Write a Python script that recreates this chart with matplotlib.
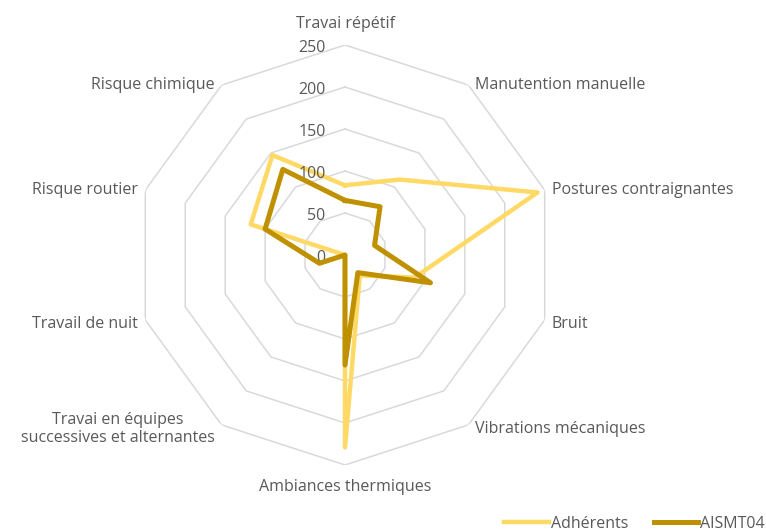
import numpy as np
import matplotlib
matplotlib.use("Agg")
import matplotlib.pyplot as plt
from matplotlib.lines import Line2D

categories = ["Travai répétif", "Manutention manuelle", "Postures contraignantes", "Bruit",
              "Vibrations mécaniques", "Ambiances thermiques",
              "Travai en équipes\nsuccessives et alternantes", "Travail de nuit",
              "Risque routier", "Risque chimique"]
adherents = [83, 111, 241, 87, 30, 229, 0, 0, 118, 147]
aismt04 = [65, 71, 37, 107, 26, 131, 0, 32, 100, 126]
ticks = [0, 50, 100, 150, 200, 250]

TXT = "#595959"
FONT = "Open Sans"
FS = 11.5

fig = plt.figure(figsize=(7.66, 5.30), dpi=100)
ax = fig.add_axes([135/766, 65/530, 420/766, 420/530], projection="polar")
ax.set_theta_offset(np.pi / 2)
ax.set_theta_direction(-1)
ax.set_ylim(0, 250)
ax.grid(False)
ax.spines["polar"].set_visible(False)
ax.set_xticks([])
ax.set_yticks([])
ax.patch.set_alpha(0)

n = len(categories)
theta = np.linspace(0, 2 * np.pi, n, endpoint=False)
tc = np.append(theta, theta[0])

for r in ticks[1:]:
    ax.plot(tc, [r] * (n + 1), color="#d9d9d9", lw=1.1, zorder=1)

ax.plot(tc, adherents + adherents[:1], color="#FFD966", lw=3.2, zorder=3,
        solid_joinstyle="round")
ax.plot(tc, aismt04 + aismt04[:1], color="#BF9000", lw=3.6, zorder=4,
        solid_joinstyle="round")

for t in ticks:
    ax.annotate(str(t), xy=(0, t), xytext=(-14, -2), textcoords="offset points",
                ha="right", va="center", fontsize=FS, color=TXT, family=FONT)

for th, lab in zip(theta, categories):
    s, c = np.sin(th), np.cos(th)
    if abs(s) < 1e-6:
        ha = "center"
        dx, dy = 0, (15 if c > 0 else -16)
    else:
        ha = "left" if s > 0 else "right"
        dx = 5 if s > 0 else -5
        dy = -3 if c < 0 else 0
    ax.annotate(lab, xy=(th, 250), xytext=(dx, dy), textcoords="offset points",
                ha=ha, va="center", fontsize=FS, color=TXT, family=FONT,
                multialignment="center", annotation_clip=False)

handles = [Line2D([], [], color="#FFD966", lw=3.2), Line2D([], [], color="#BF9000", lw=3.6)]
fig.legend(handles, ["Adhérents", "AISMT04"], loc="lower left",
           bbox_to_anchor=(490/766, -0.03), ncol=2, frameon=False,
           handlelength=2.8, handletextpad=0.1, columnspacing=1.6,
           prop={"family": FONT, "size": FS}, labelcolor=TXT)

fig.savefig("out.png", dpi=100)
